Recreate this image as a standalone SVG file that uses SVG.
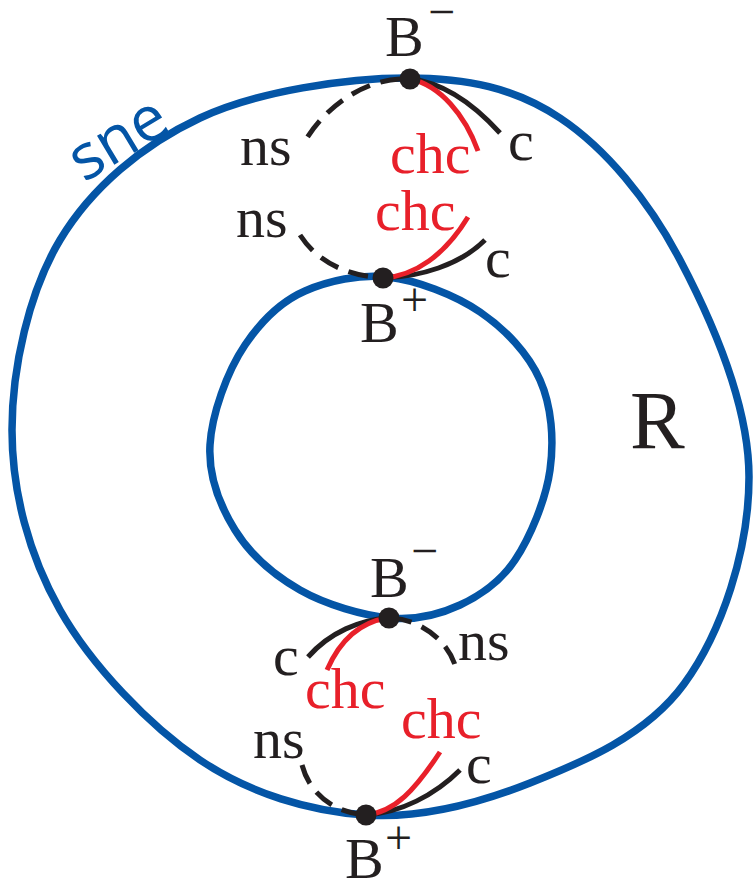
<svg xmlns="http://www.w3.org/2000/svg" width="753" height="881" viewBox="0 0 753 881">
<style>
.loop{fill:none;stroke:#0455a6;stroke-width:7.5}
.c{fill:none;stroke:#231f20;stroke-width:5;stroke-linecap:butt}
.ns{fill:none;stroke:#231f20;stroke-width:5;stroke-dasharray:20 11}
.chc{fill:none;stroke:#e8202a;stroke-width:5}
.dot{fill:#231f20}
.t{font-family:"Liberation Serif","Times New Roman",serif;font-size:58px;fill:#231f20}
.tr{font-family:"Liberation Serif","Times New Roman",serif;font-size:58px;fill:#e8202a}
.sup{font-size:48px}
.big{font-size:82px}
</style>
<rect width="753" height="881" fill="#fff"/>
<g id="outer-loop">
<path class="loop" d="M407,78 C467,78 514.5,87.7 560,118 C605.5,148.3 648.5,200.2 680,260 C711.5,319.8 749,405.3 749,477 C749,550 722,632 684,684 C646,736 582.5,762.2 530,783 C477.5,803.8 420,818.8 365,815 C310,811.2 250.8,794.2 200,760 C149.2,725.8 91.2,665 60,610 C28.8,555 12,491.7 12,430 C12,368.3 28.8,292 60,240 C91.2,188 142.2,145 200,118 C257.8,91 347,78 407,78 Z"/>
<text transform="translate(84,183) rotate(-31)" font-family="'Open Sans',sans-serif" font-size="63" fill="#0455a6">sne</text>
</g>
<g id="inner-loop">
<path class="loop" d="M388,277 C416.3,280.2 454.7,294.8 480,312 C505.3,329.2 528.3,353.7 540,380 C551.7,406.3 554.2,440 550,470 C545.8,500 530,537.5 515,560 C500,582.5 480.8,595.3 460,605 C439.2,614.7 416.7,620.5 390,618 C363.3,615.5 325.8,604.7 300,590 C274.2,575.3 250,554.2 235,530 C220,505.8 208.3,475 210,445 C211.7,415 226.7,372 245,345 C263.3,318 282,301 305,291 C328,281 359.7,273.8 388,277 Z"/>
</g>
<g id="region-R">
<text class="t big" x="630" y="448">R</text>
</g>
<g id="connectors">
<path class="ns" d="M400,79 C370,80 330,100 305,141"/>
<path class="c" d="M410,79 C440,82 470,100 500,133"/>
<path class="chc" d="M410,79 C440,85 465,115 478,151"/>
<path class="ns" d="M300,235 C315,258 340,275 383,278"/>
<path class="c" d="M383,278 C420,277 460,265 485,240"/>
<path class="chc" d="M383,278 C415,276 445,255 468,217"/>
<path class="c" d="M388,618 C360,620 330,632 308,657"/>
<path class="chc" d="M388,618 C360,622 340,640 327,670"/>
<path class="ns" d="M392,618 C420,620 450,640 457,672"/>
<path class="ns" d="M302,765 C310,795 335,813 366,815"/>
<path class="c" d="M366,815 C400,813 435,795 460,770"/>
<path class="chc" d="M366,815 C395,812 415,790 440,752"/>
</g>
<g id="node-top-Bminus">
<circle class="dot" cx="410" cy="79" r="10.5"/>
<text class="t" x="385" y="56">B<tspan class="sup" x="428" y="28">−</tspan></text>
<text class="t" x="240" y="165">ns</text>
<text class="tr" x="390" y="173">chc</text>
<text class="t" x="508" y="160">c</text>
</g>
<g id="node-top-Bplus">
<circle class="dot" cx="383" cy="278" r="10.5"/>
<text class="t" x="360" y="342">B<tspan class="sup" x="401" y="316">+</tspan></text>
<text class="t" x="236" y="237">ns</text>
<text class="tr" x="375" y="230">chc</text>
<text class="t" x="485" y="277">c</text>
</g>
<g id="node-bottom-Bminus">
<circle class="dot" cx="389" cy="618" r="10.5"/>
<text class="t" x="370" y="597">B<tspan class="sup" x="411" y="567">−</tspan></text>
<text class="t" x="273" y="675">c</text>
<text class="tr" x="305" y="708">chc</text>
<text class="t" x="458" y="660">ns</text>
</g>
<g id="node-bottom-Bplus">
<circle class="dot" cx="366" cy="815" r="10.5"/>
<text class="t" x="345" y="878">B<tspan class="sup" x="385" y="854">+</tspan></text>
<text class="t" x="253" y="758">ns</text>
<text class="tr" x="401" y="738">chc</text>
<text class="t" x="466" y="783">c</text>
</g>
</svg>
